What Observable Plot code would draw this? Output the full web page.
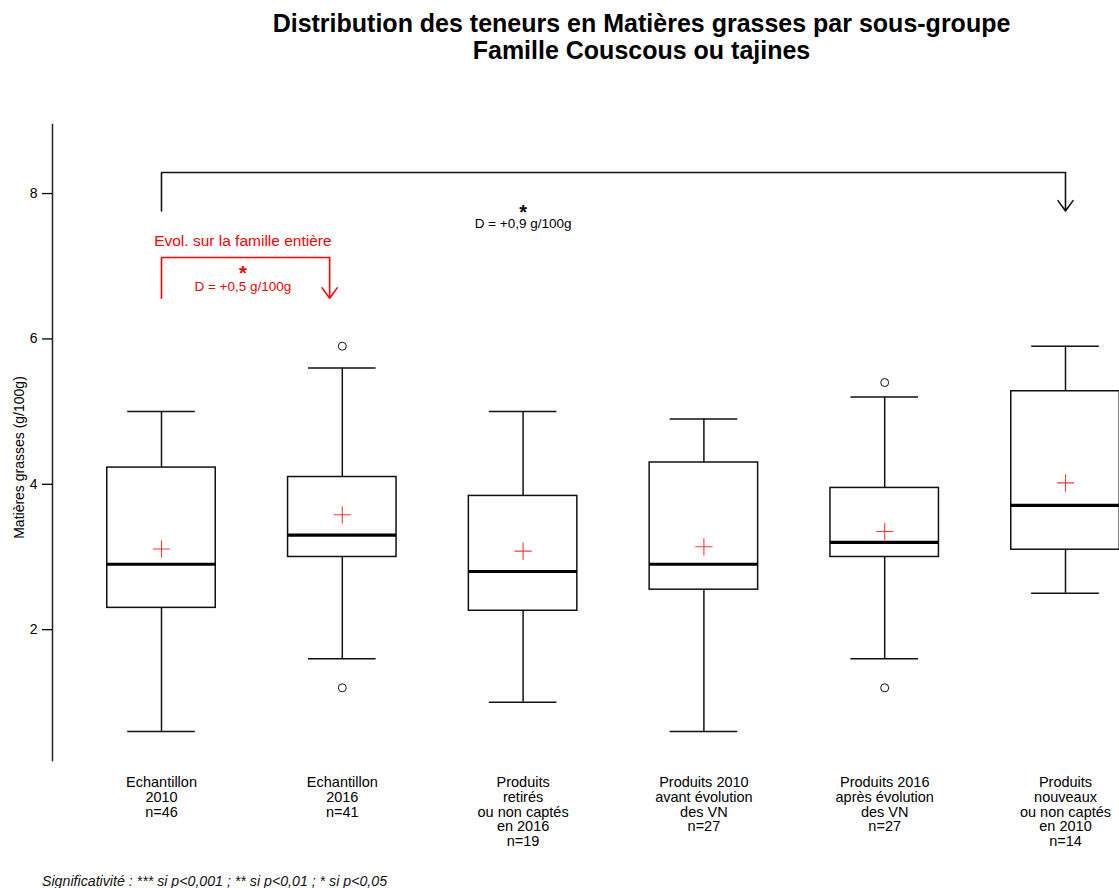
<!DOCTYPE html>
<html>
<head>
<meta charset="utf-8">
<script src="https://cdn.jsdelivr.net/npm/d3@7"></script>
<script src="https://cdn.jsdelivr.net/npm/@observablehq/plot@0.6"></script>
<style>
  html, body { margin: 0; padding: 0; background: white; overflow: hidden; }
  body { width: 1119px; height: 888px; font-family: "Liberation Sans", Arial, sans-serif; }
  #title { box-sizing: border-box; height: 70px; padding-top: 10px; margin-left: 164px; text-align: center;
           font-weight: bold; font-size: 25px; line-height: 27px; color: #000; }
  #foot { margin-left: 42px; margin-top: 2px; font-style: italic; font-size: 14.2px; line-height: 18px; color: #111; }
</style>
</head>
<body>
<div id="title">Distribution des teneurs en Matières grasses par sous-groupe<br>Famille Couscous ou tajines</div>
<div id="chart"></div>
<div id="foot">Significativité : *** si p&lt;0,001 ; ** si p&lt;0,01 ; * si p&lt;0,05</div>
<script>
// ---- Data ----
const groups = [
  "Echantillon\n2010\nn=46",
  "Echantillon\n2016\nn=41",
  "Produits\nretirés\nou non captés\nen 2016\nn=19",
  "Produits 2010\navant évolution\ndes VN\nn=27",
  "Produits 2016\naprès évolution\ndes VN\nn=27",
  "Produits\nnouveaux\nou non captés\nen 2010\nn=14"
];
const whiskerLow  = [0.6, 1.6, 1.0, 0.6, 1.6, 2.5];
const q1          = [2.3, 3.0, 2.26, 2.55, 3.0, 3.1];
const median      = [2.9, 3.3, 2.8, 2.9, 3.2, 3.71];
const q3          = [4.23, 4.1, 3.84, 4.3, 3.95, 5.28];
const whiskerHigh = [5.0, 5.6, 5.0, 4.9, 5.2, 5.9];
const means       = [3.11, 3.58, 3.08, 3.14, 3.35, 4.02];
const outlierGroup = [1, 1, 4, 4];
const outlierValue = [5.9, 1.2, 5.4, 1.2];
const yTicks = [2, 4, 6, 8];
const yLabel = "Matières grasses (g/100g)";

// Annotations (comparisons)
const compAll = {from: 0, to: 5, top: 8.29, bottom: 7.76, star: "*", text: "D = +0,9 g/100g", at: 2, starY: 7.81, textY: 7.59};
const compFam = {from: 0, to: 1, top: 7.12, bottom: 6.56, star: "*", text: "D = +0,5 g/100g", at: 0.45, starY: 6.97, textY: 6.72,
                 title: "Evol. sur la famille entière", titleY: 7.35};

// ---- Chart ----
const idx = d3.range(groups.length);
const boxHalf = 0.30, capHalf = 0.187, redShift = 0.07;
const red = "#ff0000";

const chart = Plot.plot({
  width: 1119,
  height: 800,
  marginLeft: 52,
  marginRight: 0,
  marginTop: 54,
  marginBottom: 110,
  style: {fontFamily: '"Liberation Sans", Arial, sans-serif', fontSize: "14px", background: "white", overflow: "visible", color: "#000"},
  x: {domain: [-0.5, 5.5], range: [70.6, 1155.4]},
  y: {domain: [0.2, 8.95]},
  marks: [
    Plot.frame({anchor: "left", stroke: "#222", strokeWidth: 1.5}),
    Plot.axisY({ticks: yTicks, tickSize: 10, tickPadding: 5, fontSize: 14, label: null, strokeWidth: 1.3, tickFormat: d => String(d)}),
    Plot.axisX({ticks: idx, tickSize: 0, tickPadding: 16, fontSize: 14.5, lineHeight: 1.02, label: null, tickFormat: i => groups[i]}),
    Plot.text([yLabel], {frameAnchor: "left", textAnchor: "middle", rotate: -90, dx: -33, dy: 15, fontSize: 14, text: d => d}),
    // whiskers
    Plot.ruleX(idx, {x: i => i, y1: i => q3[i], y2: i => whiskerHigh[i], stroke: "#111", strokeWidth: 1.5}),
    Plot.ruleX(idx, {x: i => i, y1: i => whiskerLow[i], y2: i => q1[i], stroke: "#111", strokeWidth: 1.5}),
    Plot.ruleY(idx, {x1: i => i - capHalf, x2: i => i + capHalf, y: i => whiskerHigh[i], stroke: "#111", strokeWidth: 1.5}),
    Plot.ruleY(idx, {x1: i => i - capHalf, x2: i => i + capHalf, y: i => whiskerLow[i], stroke: "#111", strokeWidth: 1.5}),
    // boxes
    Plot.rect(idx, {x1: i => i - boxHalf, x2: i => i + boxHalf, y1: i => q1[i], y2: i => q3[i], fill: "white", stroke: "#111", strokeWidth: 1.5}),
    Plot.ruleY(idx, {x1: i => i - boxHalf, x2: i => i + boxHalf, y: i => median[i], stroke: "#000", strokeWidth: 3.2}),
    // means
    Plot.dot(idx, {x: i => i, y: i => means[i], symbol: "plus", r: 5.6, stroke: "#ff3838", strokeWidth: 1.1}),
    // outliers
    Plot.dot(d3.range(outlierGroup.length), {x: j => outlierGroup[j], y: j => outlierValue[j], r: 4, stroke: "#111", fill: "none", strokeWidth: 1}),
    // comparison over the whole sample
    Plot.line([[compAll.from, compAll.bottom], [compAll.from, compAll.top], [compAll.to, compAll.top]], {x: d => d[0], y: d => d[1], stroke: "#111", strokeWidth: 1.6}),
    Plot.arrow([0], {x1: compAll.to, y1: compAll.top, x2: compAll.to, y2: compAll.bottom, stroke: "#111", strokeWidth: 1.6, headLength: 12, headAngle: 72}),
    Plot.text([compAll.star], {x: compAll.at, y: compAll.starY, text: d => d, fontSize: 20, fontWeight: "bold", dy: 5}),
    Plot.text([compAll.text], {x: compAll.at, y: compAll.textY, text: d => d, fontSize: 13.5}),
    // comparison over the family
    Plot.text([compFam.title], {x: compFam.at, y: compFam.titleY, text: d => d, fontSize: 15.5, fill: red}),
    Plot.line([[compFam.from, compFam.bottom], [compFam.from, compFam.top], [compFam.to - redShift, compFam.top]], {x: d => d[0], y: d => d[1], stroke: red, strokeWidth: 1.6}),
    Plot.arrow([0], {x1: compFam.to - redShift, y1: compFam.top, x2: compFam.to - redShift, y2: compFam.bottom, stroke: red, strokeWidth: 1.6, headLength: 12, headAngle: 72}),
    Plot.text([compFam.star], {x: compFam.at, y: compFam.starY, text: d => d, fontSize: 20, fontWeight: "bold", dy: 5, fill: red}),
    Plot.text([compFam.text], {x: compFam.at, y: compFam.textY, text: d => d, fontSize: 13.5, fill: red})
  ]
});
document.getElementById("chart").appendChild(chart);
</script>
</body>
</html>
